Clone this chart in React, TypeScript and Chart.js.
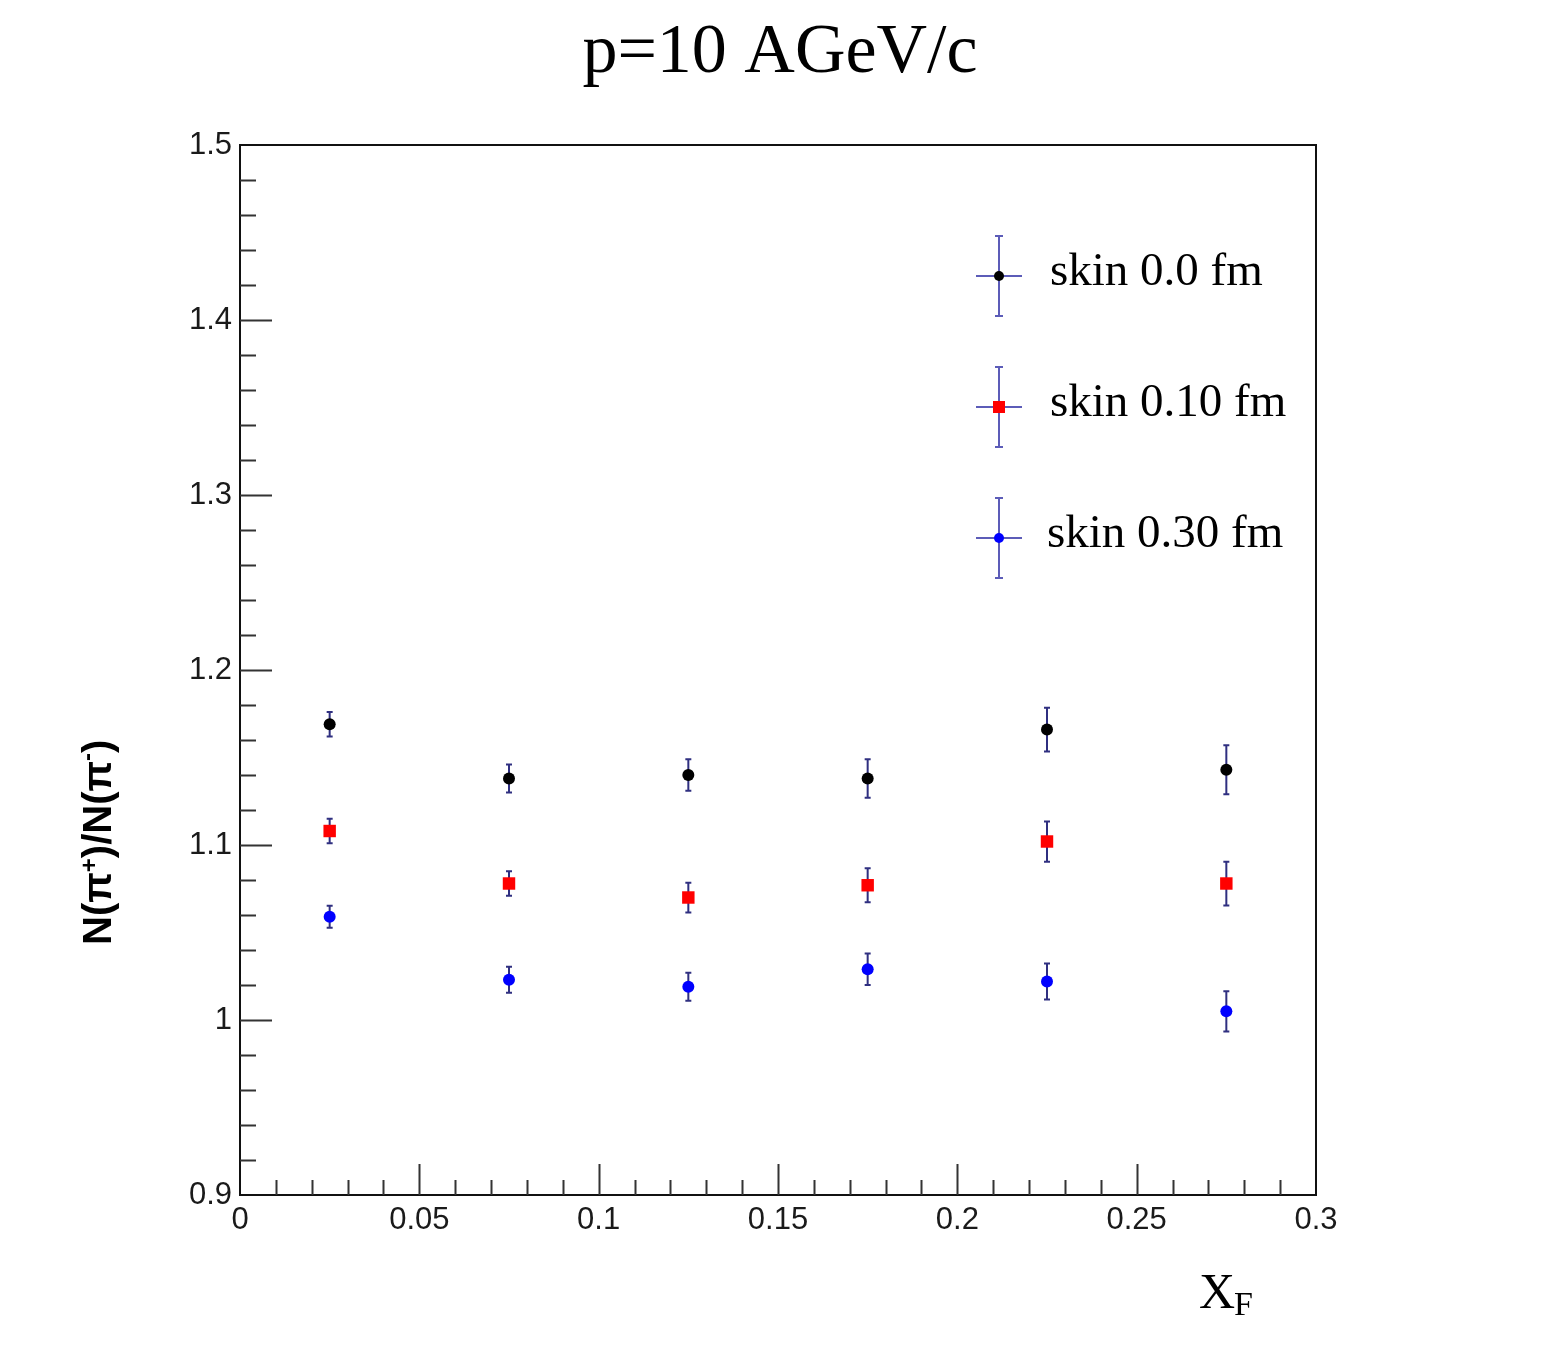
import React, { useEffect, useRef } from "react";
import { Chart, registerables } from "chart.js";

Chart.register(...registerables);

// ---- data ----
const xValues = [0.025, 0.075, 0.125, 0.175, 0.225, 0.275];
const skin00 = [1.169, 1.138, 1.140, 1.138, 1.166, 1.143];
const skin00Err = [0.007, 0.008, 0.009, 0.011, 0.0125, 0.014];
const skin010 = [1.108, 1.078, 1.070, 1.077, 1.102, 1.078];
const skin010Err = [0.007, 0.007, 0.0085, 0.0097, 0.0115, 0.0125];
const skin030 = [1.059, 1.023, 1.019, 1.029, 1.022, 1.005];
const skin030Err = [0.0063, 0.0074, 0.008, 0.009, 0.0103, 0.0115];
const seriesLabels = ["skin 0.0 fm", "skin 0.10 fm", "skin 0.30 fm"];
const seriesColors = ["#000000", "#ff0000", "#0000ff"];
const seriesStyles = ["circle", "rect", "circle"];
const chartTitle = "p=10 AGeV/c";
const xMin = 0, xMax = 0.3, xStep = 0.05, xMinor = 0.01;
const yMin = 0.9, yMax = 1.5, yStep = 0.1, yMinor = 0.02;

const W = 1557, H = 1348;
const ERR_COLOR = "#2f2f80";
const LEG_ERR_COLOR = "#5c5cb8";
const AXIS_COLOR = "#111";

const fmt = (v: number) => String(+v.toFixed(3));

const errorBarPlugin = {
  id: "errorBars",
  beforeDatasetsDraw(chart: any) {
    const ctx = chart.ctx;
    const xs = chart.scales.x, ys = chart.scales.y;
    ctx.save();
    ctx.strokeStyle = ERR_COLOR;
    ctx.lineWidth = 2;
    chart.data.datasets.forEach((ds: any) => {
      ds.data.forEach((p: any) => {
        const px = xs.getPixelForValue(p.x);
        const t = ys.getPixelForValue(p.y + p.err);
        const b = ys.getPixelForValue(p.y - p.err);
        ctx.beginPath();
        ctx.moveTo(px, t); ctx.lineTo(px, b);
        ctx.moveTo(px - 3, t); ctx.lineTo(px + 3, t);
        ctx.moveTo(px - 3, b); ctx.lineTo(px + 3, b);
        ctx.stroke();
      });
    });
    ctx.restore();
  },
};

const framePlugin = {
  id: "rootFrame",
  afterDraw(chart: any) {
    const ctx = chart.ctx;
    const a = chart.chartArea;
    const xs = chart.scales.x, ys = chart.scales.y;
    ctx.save();
    // frame
    ctx.strokeStyle = AXIS_COLOR;
    ctx.lineWidth = 2;
    ctx.strokeRect(a.left, a.top, a.right - a.left, a.bottom - a.top);
    // inward ticks
    ctx.strokeStyle = "#333";
    ctx.lineWidth = 2;
    ctx.beginPath();
    const ny = Math.round((yMax - yMin) / yMinor);
    for (let k = 1; k < ny; k++) {
      const v = yMin + k * yMinor;
      const py = Math.round(ys.getPixelForValue(v)) + 0.5;
      const len = k % 5 === 0 ? 32 : 16;
      ctx.moveTo(a.left, py); ctx.lineTo(a.left + len, py);
    }
    const nx = Math.round((xMax - xMin) / xMinor);
    for (let k = 1; k < nx; k++) {
      const v = xMin + k * xMinor;
      const px = Math.round(xs.getPixelForValue(v)) + 0.5;
      const len = k % 5 === 0 ? 31 : 15;
      ctx.moveTo(px, a.bottom); ctx.lineTo(px, a.bottom - len);
    }
    ctx.stroke();

    // title
    ctx.fillStyle = "#000";
    ctx.font = '70px "Liberation Serif", "Times New Roman", serif';
    ctx.textAlign = "center";
    ctx.textBaseline = "alphabetic";
    ctx.fillText(chartTitle, (a.left + a.right) / 2 + 2, 72);

    // x title: X_F
    ctx.textAlign = "left";
    ctx.font = '50px "Liberation Serif", "Times New Roman", serif';
    ctx.fillText("X", 1199, 1308);
    ctx.font = '34px "Liberation Serif", "Times New Roman", serif';
    ctx.fillText("F", 1234, 1315);

    // y title: N(π+)/N(π-)
    ctx.save();
    ctx.translate(111, 945);
    ctx.rotate(-Math.PI / 2);
    const big = 'bold 40px "Liberation Sans", Arial, sans-serif';
    const small = 'bold 24px "Liberation Sans", Arial, sans-serif';
    const parts: [string, string, number][] = [
      ["N(π", big, 0], ["+", small, -14], [")/N(π", big, 0], ["-", small, -16], [")", big, 0],
    ];
    let cx = 0;
    ctx.textAlign = "left";
    ctx.textBaseline = "alphabetic";
    for (const [txt, f, dy] of parts) {
      ctx.font = f;
      ctx.fillText(txt, cx, dy);
      cx += ctx.measureText(txt).width;
    }
    ctx.restore();

    // legend
    chart.data.datasets.forEach((ds: any, i: number) => {
      const cy = a.top + 131 * (i + 1);
      const mx = a.left + 759;
      ctx.strokeStyle = LEG_ERR_COLOR;
      ctx.lineWidth = 2;
      ctx.beginPath();
      ctx.moveTo(mx, cy - 40); ctx.lineTo(mx, cy + 40);
      ctx.moveTo(mx - 4, cy - 40); ctx.lineTo(mx + 4, cy - 40);
      ctx.moveTo(mx - 4, cy + 40); ctx.lineTo(mx + 4, cy + 40);
      ctx.moveTo(mx - 23, cy); ctx.lineTo(mx + 23, cy);
      ctx.stroke();
      ctx.fillStyle = ds.backgroundColor;
      if (ds.pointStyle === "rect") {
        ctx.fillRect(mx - 6, cy - 6, 12, 12);
      } else {
        ctx.beginPath();
        ctx.arc(mx, cy, 5, 0, Math.PI * 2);
        ctx.fill();
      }
      ctx.fillStyle = "#000";
      ctx.font = '47px "Liberation Serif", "Times New Roman", serif';
      ctx.textAlign = "left";
      ctx.textBaseline = "middle";
      ctx.fillText(ds.label, a.left + 810 - (i === 2 ? 3 : 0), cy - 3);
    });
    ctx.restore();
  },
};

export default function App() {
  const ref = useRef<HTMLCanvasElement>(null);
  useEffect(() => {
    const canvas = ref.current!;
    const mk = (ys: number[], errs: number[]) =>
      xValues.map((x, i) => ({ x, y: ys[i], err: errs[i] }));
    const seriesY = [skin00, skin010, skin030];
    const seriesE = [skin00Err, skin010Err, skin030Err];
    const tickFont = { family: '"Liberation Sans", Arial, sans-serif', size: 31 };
    const chart = new Chart(canvas, {
      type: "scatter",
      data: {
        datasets: seriesLabels.map((label, i) => ({
          label,
          data: mk(seriesY[i], seriesE[i]),
          backgroundColor: seriesColors[i],
          borderColor: seriesColors[i],
          borderWidth: 0,
          pointStyle: seriesStyles[i] as any,
          pointRadius: seriesStyles[i] === "rect" ? 8.8 : 6,
          showLine: false,
        })),
      },
      options: {
        responsive: false,
        animation: false,
        devicePixelRatio: 1,
        layout: { padding: { left: 0, right: 241, top: 145, bottom: 0 } },
        plugins: {
          legend: { display: false },
          title: { display: false },
          tooltip: { enabled: false },
        },
        scales: {
          x: {
            type: "linear",
            min: xMin,
            max: xMax,
            afterFit: (s: any) => { s.height = 153; },
            ticks: {
              stepSize: xStep,
              autoSkip: false,
              maxRotation: 0,
              font: tickFont,
              color: "#1a1a1a",
              padding: 7,
              callback: (v: any) => fmt(Number(v)),
            },
            grid: { display: false, drawTicks: false },
            border: { display: true, color: AXIS_COLOR, width: 2 },
          },
          y: {
            type: "linear",
            min: yMin,
            max: yMax,
            afterFit: (s: any) => { s.width = 240; },
            ticks: {
              stepSize: yStep,
              autoSkip: false,
              font: tickFont,
              color: "#1a1a1a",
              padding: 8,
              callback: (v: any) => fmt(Number(v)),
            },
            grid: { display: false, drawTicks: false },
            border: { display: true, color: AXIS_COLOR, width: 2 },
          },
        },
      },
      plugins: [errorBarPlugin, framePlugin],
    } as any);
    return () => chart.destroy();
  }, []);
  return (
    <canvas
      ref={ref}
      width={W}
      height={H}
      style={{ position: "absolute", left: 0, top: 0, width: W, height: H }}
    />
  );
}
